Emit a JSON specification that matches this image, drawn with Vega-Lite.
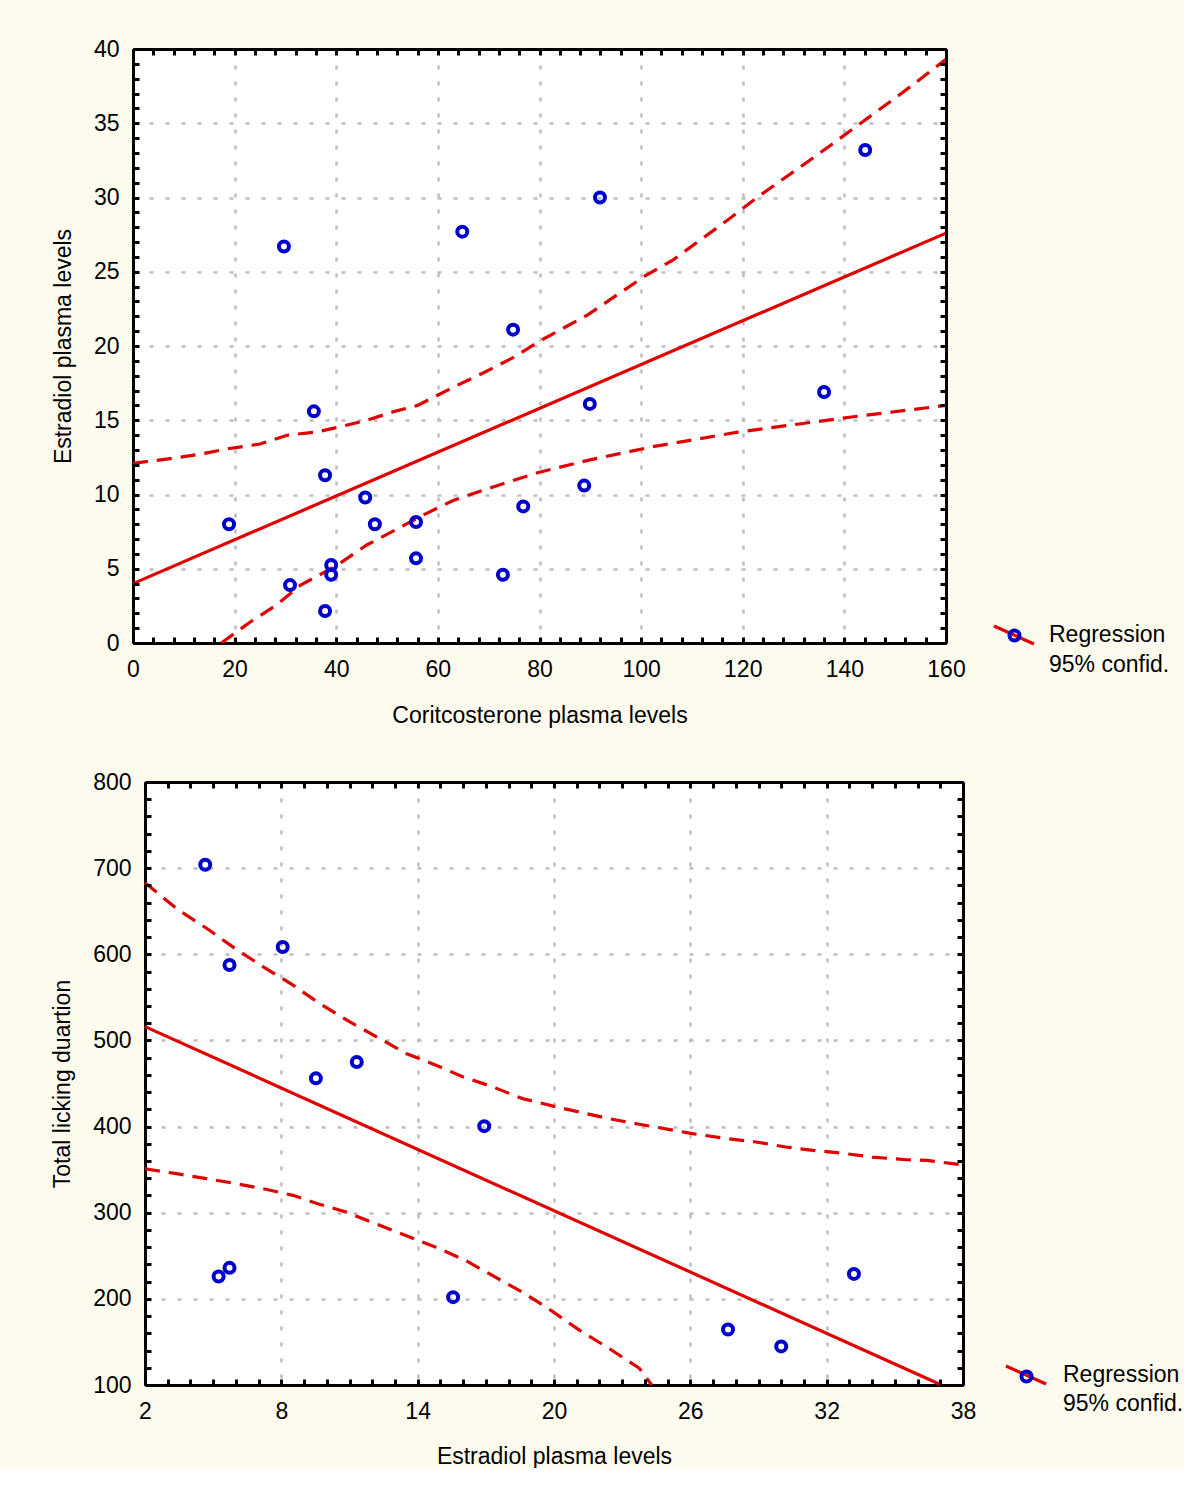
{
  "$schema": "https://vega.github.io/schema/vega-lite/v6.json",
  "background": "#fdfbee",
  "padding": {"left": 51, "top": 38, "right": 0, "bottom": 0},
  "config": {
    "font": "Liberation Sans",
    "view": {"stroke": null, "fill": "white"},
    "axis": {"labelFont": "Liberation Sans", "titleFont": "Liberation Sans", "labelFontSize": 23, "titleFontSize": 23, "labelColor": "black", "titleColor": "black", "titleFontWeight": "normal", "domainColor": "black", "domainWidth": 3, "tickColor": "black", "tickWidth": 3, "gridColor": "#bdbdbd", "gridDash": [4, 12], "gridWidth": 2.5, "labelOverlap": false, "labelFlush": false},
    "legend": {"orient": "none", "padding": 0, "labelFont": "Liberation Sans", "labelFontSize": 23, "labelColor": "black", "labelLimit": 400, "title": null}
  },
  "datasets": {
    "top_pts": [
      {"x": 18.9, "y": 8.0}, {"x": 29.7, "y": 26.7}, {"x": 30.9, "y": 3.9}, {"x": 35.6, "y": 15.6}, {"x": 37.8, "y": 11.3}, {"x": 37.8, "y": 2.15}, {"x": 39.0, "y": 5.25}, {"x": 39.0, "y": 4.6}, {"x": 45.7, "y": 9.8}, {"x": 47.6, "y": 8.0}, {"x": 55.7, "y": 8.15}, {"x": 55.7, "y": 5.7}, {"x": 64.8, "y": 27.7}, {"x": 72.8, "y": 4.6}, {"x": 74.8, "y": 21.1}, {"x": 76.8, "y": 9.2}, {"x": 88.8, "y": 10.6}, {"x": 89.9, "y": 16.1}, {"x": 91.9, "y": 30.0}, {"x": 136.0, "y": 16.9}, {"x": 144.1, "y": 33.2}
    ],
    "top_reg": [{"x": 0, "y": 4.0}, {"x": 160, "y": 27.6}],
    "top_up": [
      {"x": 0, "y": 12.1}, {"x": 7, "y": 12.4}, {"x": 13, "y": 12.7}, {"x": 19, "y": 13.1}, {"x": 25, "y": 13.4}, {"x": 30.5, "y": 14.0}, {"x": 36, "y": 14.2}, {"x": 40, "y": 14.5}, {"x": 46, "y": 15.0}, {"x": 51.5, "y": 15.6}, {"x": 56, "y": 16.0}, {"x": 63.5, "y": 17.3}, {"x": 69, "y": 18.2}, {"x": 74.7, "y": 19.2}, {"x": 80.4, "y": 20.4}, {"x": 89.5, "y": 22.1}, {"x": 100.7, "y": 24.7}, {"x": 106.3, "y": 25.8}, {"x": 117.5, "y": 28.6}, {"x": 123.2, "y": 30.1}, {"x": 134.4, "y": 32.8}, {"x": 140, "y": 34.2}, {"x": 151.2, "y": 37.0}, {"x": 160, "y": 39.3}
    ],
    "top_lo": [
      {"x": 17.4, "y": 0}, {"x": 23, "y": 1.4}, {"x": 28, "y": 2.5}, {"x": 33, "y": 3.9}, {"x": 40, "y": 5.2}, {"x": 46, "y": 6.6}, {"x": 51, "y": 7.5}, {"x": 57, "y": 8.6}, {"x": 63, "y": 9.6}, {"x": 69, "y": 10.3}, {"x": 74.4, "y": 10.9}, {"x": 80, "y": 11.5}, {"x": 89.5, "y": 12.3}, {"x": 102, "y": 13.2}, {"x": 119, "y": 14.2}, {"x": 130, "y": 14.7}, {"x": 141, "y": 15.2}, {"x": 160, "y": 16.0}
    ],
    "bot_pts": [
      {"x": 4.65, "y": 704}, {"x": 5.72, "y": 587.5}, {"x": 5.24, "y": 226}, {"x": 5.72, "y": 236}, {"x": 8.06, "y": 608.5}, {"x": 9.52, "y": 456}, {"x": 11.32, "y": 475}, {"x": 15.56, "y": 202}, {"x": 16.93, "y": 400.5}, {"x": 27.66, "y": 164.5}, {"x": 30.0, "y": 144.8}, {"x": 33.2, "y": 229}
    ],
    "bot_reg": [{"x": 2, "y": 516}, {"x": 37.05, "y": 100}],
    "bot_up": [
      {"x": 2, "y": 683}, {"x": 3.46, "y": 651.6}, {"x": 4.71, "y": 630.2}, {"x": 5.95, "y": 607}, {"x": 7.19, "y": 585.7}, {"x": 8.51, "y": 564.3}, {"x": 9.68, "y": 543}, {"x": 11.0, "y": 521.7}, {"x": 12.32, "y": 502.3}, {"x": 13.49, "y": 484.9}, {"x": 14.8, "y": 471.3}, {"x": 15.98, "y": 457.8}, {"x": 17.3, "y": 446.1}, {"x": 18.6, "y": 432.6}, {"x": 20.08, "y": 423}, {"x": 21.1, "y": 417}, {"x": 22.4, "y": 409.3}, {"x": 23.75, "y": 402.7}, {"x": 25.1, "y": 396.5}, {"x": 26.1, "y": 391.8}, {"x": 27.6, "y": 386}, {"x": 28.9, "y": 382.1}, {"x": 30.2, "y": 376.3}, {"x": 31.4, "y": 372.4}, {"x": 32.6, "y": 369.3}, {"x": 34.0, "y": 364.6}, {"x": 35.5, "y": 361.5}, {"x": 36.4, "y": 360.7}, {"x": 38, "y": 355.5}
    ],
    "bot_lo": [
      {"x": 2, "y": 351}, {"x": 3.39, "y": 345.3}, {"x": 4.71, "y": 339.5}, {"x": 6.02, "y": 333.7}, {"x": 7.19, "y": 327.9}, {"x": 8.51, "y": 320.2}, {"x": 9.6, "y": 310.5}, {"x": 10.84, "y": 300.8}, {"x": 12.16, "y": 287.2}, {"x": 13.48, "y": 273.5}, {"x": 14.8, "y": 260}, {"x": 16.12, "y": 244.4}, {"x": 17.44, "y": 224.9}, {"x": 18.76, "y": 205.4}, {"x": 19.79, "y": 188}, {"x": 21.1, "y": 164}, {"x": 22.4, "y": 142.8}, {"x": 23.75, "y": 119.5}, {"x": 24.3, "y": 100}
    ]
  },
  "spacing": 44,
  "resolve": {
    "scale": {"shape": "independent", "stroke": "independent", "strokeDash": "independent"},
    "legend": {"shape": "independent", "stroke": "independent", "strokeDash": "independent"}
  },
  "vconcat": [
    {
      "width": 813,
      "height": 594,
      "resolve": {"axis": {"x": "independent", "y": "independent"}},
      "layer": [
        {
          "data": {"name": "top_up"},
          "mark": {"type": "line", "strokeWidth": 3.2, "color": "#e00000"},
          "encoding": {
            "x": {"field": "x", "type": "quantitative", "scale": {"domain": [0, 160], "nice": false, "zero": false},
              "axis": {"orient": "top", "values": [0,4,8,12,16,20,24,28,32,36,40,44,48,52,56,60,64,68,72,76,80,84,88,92,96,100,104,108,112,116,120,124,128,132,136,140,144,148,152,156,160], "labels": false, "grid": false, "domain": true, "ticks": true, "tickSize": -6, "title": null, "zindex": 1}},
            "y": {"field": "y", "type": "quantitative", "scale": {"domain": [0, 40], "nice": false, "zero": false},
              "axis": {"orient": "right", "values": [0,1,2,3,4,5,6,7,8,9,10,11,12,13,14,15,16,17,18,19,20,21,22,23,24,25,26,27,28,29,30,31,32,33,34,35,36,37,38,39,40], "labels": false, "grid": false, "domain": true, "ticks": true, "tickSize": -6, "title": null, "zindex": 1}},
            "strokeDash": {"datum": "95% confid.", "scale": {"range": [[15, 9]]},
              "legend": {"symbolType": "M-2,-0.9L2,0.9", "symbolSize": 400, "symbolStrokeWidth": 3, "symbolOpacity": 0, "labelOffset": 23, "legendX": 870, "legendY": 604}}
          }
        },
        {
          "data": {"name": "top_lo"},
          "mark": {"type": "line", "strokeWidth": 3.2, "color": "#e00000"},
          "encoding": {
            "x": {"field": "x", "type": "quantitative", "axis": null},
            "y": {"field": "y", "type": "quantitative", "axis": null},
            "strokeDash": {"datum": "95% confid."}
          }
        },
        {
          "data": {"name": "top_reg"},
          "mark": {"type": "line", "strokeWidth": 3.2},
          "encoding": {
            "x": {"field": "x", "type": "quantitative",
              "axis": {"orient": "bottom", "values": [0,4,8,12,16,20,24,28,32,36,40,44,48,52,56,60,64,68,72,76,80,84,88,92,96,100,104,108,112,116,120,124,128,132,136,140,144,148,152,156,160], "labels": false, "grid": false, "domain": false, "ticks": true, "tickSize": -6, "title": null, "zindex": 1}},
            "y": {"field": "y", "type": "quantitative",
              "axis": {"orient": "left", "values": [0,1,2,3,4,5,6,7,8,9,10,11,12,13,14,15,16,17,18,19,20,21,22,23,24,25,26,27,28,29,30,31,32,33,34,35,36,37,38,39,40], "labels": false, "grid": false, "domain": false, "ticks": true, "tickSize": -6, "title": null, "zindex": 1}},
            "stroke": {"datum": "Regression", "scale": {"range": ["#e00000"]},
              "legend": {"symbolType": "M-2,-0.9L2,0.9", "symbolSize": 400, "symbolStrokeWidth": 3.2, "symbolStrokeColor": "#e00000", "labelOffset": 23, "legendX": 869, "legendY": 574}}
          }
        },
        {
          "data": {"name": "top_pts"},
          "mark": {"type": "point", "filled": false, "stroke": "#0000cc", "strokeWidth": 4, "size": 100, "opacity": 1},
          "encoding": {
            "x": {"field": "x", "type": "quantitative",
              "axis": {"orient": "bottom", "values": [0,20,40,60,80,100,120,140,160], "grid": true, "ticks": false, "domain": true, "labelPadding": 15, "title": "Coritcosterone plasma levels", "titlePadding": 23, "zindex": 0}},
            "y": {"field": "y", "type": "quantitative",
              "axis": {"orient": "left", "values": [0,5,10,15,20,25,30,35,40], "grid": true, "ticks": false, "domain": true, "labelPadding": 14, "title": "Estradiol plasma levels", "titlePadding": 18, "zindex": 0}},
            "shape": {"datum": "pts", "scale": {"range": ["circle"]},
              "legend": {"symbolSize": 100, "symbolStrokeWidth": 4, "symbolStrokeColor": "#0000cc", "symbolFillColor": "white", "labelExpr": "''", "legendX": 870, "legendY": 575}}
          }
        }
      ]
    },
    {
      "width": 830,
      "height": 603,
      "resolve": {"axis": {"x": "independent", "y": "independent"}},
      "layer": [
        {
          "data": {"name": "bot_up"},
          "mark": {"type": "line", "strokeWidth": 3.2, "color": "#e00000"},
          "encoding": {
            "x": {"field": "x", "type": "quantitative", "scale": {"domain": [2, 38], "range": [12, 830], "nice": false, "zero": false},
              "axis": {"orient": "top", "values": [2,3,4,5,6,7,8,9,10,11,12,13,14,15,16,17,18,19,20,21,22,23,24,25,26,27,28,29,30,31,32,33,34,35,36,37,38], "labels": false, "grid": false, "domain": true, "ticks": true, "tickSize": -6, "title": null, "zindex": 1}},
            "y": {"field": "y", "type": "quantitative", "scale": {"domain": [100, 800], "nice": false, "zero": false},
              "axis": {"orient": "right", "values": [100,120,140,160,180,200,220,240,260,280,300,320,340,360,380,400,420,440,460,480,500,520,540,560,580,600,620,640,660,680,700,720,740,760,780,800], "labels": false, "grid": false, "domain": true, "ticks": true, "tickSize": -6, "title": null, "zindex": 1}},
            "strokeDash": {"datum": "95% confid.", "scale": {"range": [[15, 9]]},
              "legend": {"symbolType": "M-2,-0.9L2,0.9", "symbolSize": 400, "symbolStrokeWidth": 3, "symbolOpacity": 0, "labelOffset": 25, "legendX": 882, "legendY": 610}}
          }
        },
        {
          "data": {"name": "bot_lo"},
          "mark": {"type": "line", "strokeWidth": 3.2, "color": "#e00000"},
          "encoding": {
            "x": {"field": "x", "type": "quantitative", "axis": null},
            "y": {"field": "y", "type": "quantitative",
              "axis": {"orient": "left", "offset": -6, "labels": false, "ticks": false, "grid": false, "domain": true, "domainColor": "#fdfbee", "domainWidth": 12, "title": null, "zindex": 0}},
            "strokeDash": {"datum": "95% confid."}
          }
        },
        {
          "data": {"name": "bot_reg"},
          "mark": {"type": "line", "strokeWidth": 3.2},
          "encoding": {
            "x": {"field": "x", "type": "quantitative",
              "axis": {"orient": "bottom", "values": [2,3,4,5,6,7,8,9,10,11,12,13,14,15,16,17,18,19,20,21,22,23,24,25,26,27,28,29,30,31,32,33,34,35,36,37,38], "labels": false, "grid": false, "domain": false, "ticks": true, "tickSize": -6, "title": null, "zindex": 1}},
            "y": {"field": "y", "type": "quantitative",
              "axis": {"orient": "left", "offset": -12, "values": [100,120,140,160,180,200,220,240,260,280,300,320,340,360,380,400,420,440,460,480,500,520,540,560,580,600,620,640,660,680,700,720,740,760,780,800], "labels": false, "grid": false, "domain": false, "ticks": true, "tickSize": -6, "title": null, "zindex": 1}},
            "stroke": {"datum": "Regression", "scale": {"range": ["#e00000"]},
              "legend": {"symbolType": "M-2,-0.9L2,0.9", "symbolSize": 400, "symbolStrokeWidth": 3.2, "symbolStrokeColor": "#e00000", "labelOffset": 25, "legendX": 881, "legendY": 581}}
          }
        },
        {
          "data": {"name": "bot_pts"},
          "mark": {"type": "point", "filled": false, "stroke": "#0000cc", "strokeWidth": 4, "size": 100, "opacity": 1},
          "encoding": {
            "x": {"field": "x", "type": "quantitative",
              "axis": {"orient": "bottom", "values": [2,8,14,20,26,32,38], "grid": true, "ticks": false, "domain": true, "labelPadding": 15, "title": "Estradiol plasma levels", "titlePadding": 22, "zindex": 0}},
            "y": {"field": "y", "type": "quantitative",
              "axis": {"orient": "left", "offset": -12, "values": [100,200,300,400,500,600,700,800], "grid": true, "ticks": false, "domain": true, "labelPadding": 14, "title": "Total licking duartion", "titlePadding": 18, "zindex": 0}},
            "shape": {"datum": "pts", "scale": {"range": ["circle"]},
              "legend": {"symbolSize": 100, "symbolStrokeWidth": 4, "symbolStrokeColor": "#0000cc", "symbolFillColor": "white", "labelExpr": "''", "legendX": 882, "legendY": 583}}
          }
        }
      ]
    }
  ]
}
